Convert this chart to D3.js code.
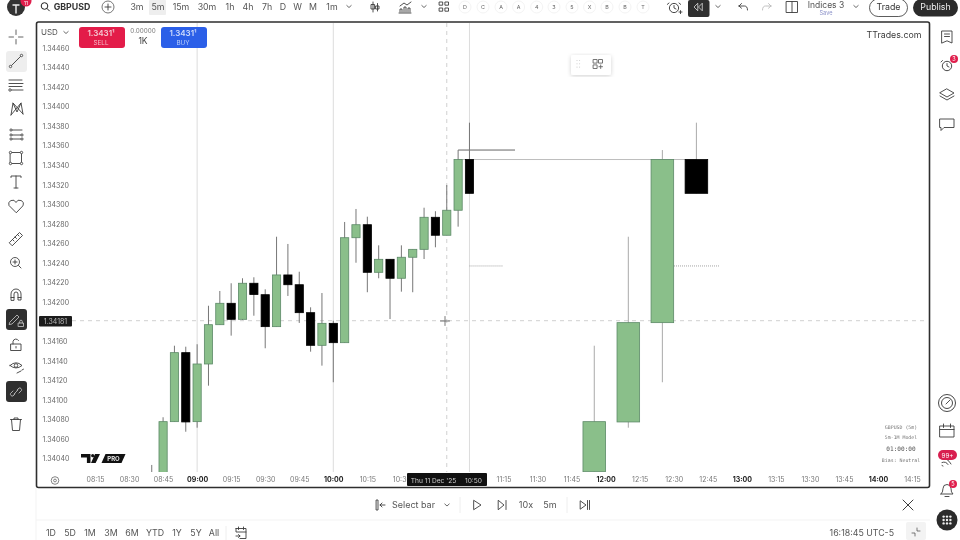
<!DOCTYPE html>
<html><head><meta charset="utf-8">
<script src="https://cdn.jsdelivr.net/npm/d3@7"></script>
<style>html,body{margin:0;padding:0;background:#fff;overflow:hidden}svg{display:block;filter:blur(.35px)}text{font-family:Inter,"Noto Sans",sans-serif}</style>
</head><body><svg id="c" width="960" height="540"></svg>
<script>
// ---- data ----
const times5m=["08:40","08:45","08:50","08:55","09:00","09:05","09:10","09:15","09:20","09:25","09:30","09:35","09:40","09:45","09:50","09:55","10:00","10:05","10:10","10:15","10:20","10:25","10:30","10:35","10:40","10:45","10:50","10:55","11:00"];
const open5m=[1.34020,1.34015,1.340777,1.341483,1.340777,1.341367,1.341769,1.341988,1.341824,1.342193,1.342076,1.341749,1.342278,1.342178,1.341892,1.341558,1.341783,1.341585,1.342659,1.342792,1.342305,1.342438,1.342244,1.342459,1.34254,1.342868,1.342684,1.34294,1.343459];
const high5m=[1.340334,1.340822,1.341554,1.341544,1.341569,1.341963,1.342114,1.342193,1.342244,1.342254,1.342131,1.342669,1.342595,1.342311,1.341947,1.342093,1.34181,1.34282,1.342953,1.342874,1.342581,1.342438,1.342581,1.34254,1.342966,1.34293,1.343198,1.343556,1.343836];
const low5m=[1.34015,1.34010,1.340777,1.340674,1.340715,1.341145,1.341769,1.341657,1.341817,1.341861,1.341528,1.341749,1.342063,1.341787,1.341493,1.34135,1.34118,1.341585,1.342403,1.342101,1.342244,1.341827,1.342107,1.342101,1.342441,1.342561,1.342684,1.342772,1.343113];
const close5m=[1.34025,1.340777,1.341483,1.340774,1.341367,1.341769,1.341988,1.341824,1.342193,1.342078,1.341749,1.342278,1.342178,1.341892,1.341558,1.341783,1.341585,1.342659,1.342792,1.342305,1.342438,1.342244,1.342459,1.34254,1.342868,1.342684,1.34294,1.343459,1.343113];
const times15m=["11:55","12:10","12:25","12:40"];
const open15m=[1.340265,1.340774,1.34179,1.343459];
const high15m=[1.341554,1.342669,1.343556,1.343836];
const low15m=[1.340265,1.340715,1.34118,1.343113];
const close15m=[1.340777,1.34179,1.343459,1.343113];
const priceTicks=[1.3446,1.3444,1.3442,1.344,1.3438,1.3436,1.3434,1.3432,1.343,1.3428,1.3426,1.3424,1.3422,1.342,1.3418,1.3416,1.3414,1.3412,1.341,1.3408,1.3406,1.3404];
const timeTicks=["08:15","08:30","08:45","09:00","09:15","09:30","09:45","10:00","10:15","10:30","11:15","11:30","11:45","12:00","12:15","12:30","12:45","13:00","13:15","13:30","13:45","14:00","14:15"];
const gridTimes=["09:00","10:00","11:00"];
const highLevel=1.343459, wickLevel=1.343556, midLevel=1.34237, crossPrice=1.34181, crossTime="10:50";
const timeframes=["3m","5m","15m","30m","1h","4h","7h","D","W","M","1m"];
const tfX=[137,158,181,207,230,248,267,283,297.5,313,332];
const letters=["D","C","A","A","4","3","5","X","B","B","T"];
const ranges=["1D","5D","1M","3M","6M","YTD","1Y","5Y","All"];
const rangeX=[51,70,90,111,132,155,177,196,214];

// ---- scales ----
const mins=s=>{const[a,b]=s.split(":").map(Number);return a*60+b};
const x=d3.scaleLinear().domain([mins("08:15"),mins("14:15")]).range([95,912]);
const y=d3.scaleLinear().domain([1.3446,1.3404]).range([48,458.5]);
const svg=d3.select("#c");
const defs=svg.append("defs");
defs.append("clipPath").attr("id","pane").append("rect").attr("x",38).attr("y",23).attr("width",890).attr("height",449);
defs.append("filter").attr("id","sh").append("feDropShadow").attr("dx",0).attr("dy",1).attr("stdDeviation",2).attr("flood-opacity",.18);

const tx=(s,xx,yy,o={})=>svg.append("text").attr("x",xx).attr("y",yy).attr("text-anchor",o.a||"middle").attr("font-size",o.s||9).attr("font-weight",o.w||400).attr("fill",o.f||"#3a3a3a").style("font-family",o.ff||null).text(s);
const ic=(xx,yy,d,o={})=>svg.append("path").attr("transform",`translate(${xx},${yy})`).attr("d",d).attr("fill",o.fill||"none").attr("stroke",o.st||"#3c3c3c").attr("stroke-width",o.w||.9).attr("stroke-linecap","round").attr("stroke-linejoin","round");
const circ=(xx,yy,r,o={})=>svg.append("circle").attr("cx",xx).attr("cy",yy).attr("r",r).attr("fill",o.fill||"none").attr("stroke",o.st||"none").attr("stroke-width",o.w||.9);
const box=(xx,yy,w,h,r,f,o={})=>svg.append("rect").attr("x",xx).attr("y",yy).attr("width",w).attr("height",h).attr("rx",r).attr("fill",f).attr("stroke",o.st||"none").attr("stroke-width",o.w||1);
const chev=(xx,yy,c="#444")=>ic(xx,yy,"M-2.2,-1L0,1L2.2,-1",{st:c,w:.8});

// ---- chart pane ----
const pane=svg.append("g").attr("clip-path","url(#pane)");
pane.selectAll(".grid").data(gridTimes).join("line").attr("x1",d=>x(mins(d))).attr("x2",d=>x(mins(d))).attr("y1",23).attr("y2",472).attr("stroke","#dcdcdc").attr("stroke-width",1);
// crosshair
pane.append("line").attr("x1",72).attr("x2",928).attr("y1",y(crossPrice)).attr("y2",y(crossPrice)).attr("stroke","#c4c4c4").attr("stroke-width",.8).attr("stroke-dasharray","4 4");
pane.append("line").attr("x1",x(mins(crossTime))).attr("x2",x(mins(crossTime))).attr("y1",23).attr("y2",472).attr("stroke","#c4c4c4").attr("stroke-width",.8).attr("stroke-dasharray","4 4");
// levels
pane.append("line").attr("x1",x(mins("10:55"))).attr("x2",x(mins("12:40"))).attr("y1",y(highLevel)).attr("y2",y(highLevel)).attr("stroke","#bdbdbd").attr("stroke-width",1);
pane.append("line").attr("x1",x(mins("10:55"))).attr("x2",515).attr("y1",y(wickLevel)).attr("y2",y(wickLevel)).attr("stroke","#666").attr("stroke-width",1);
[[x(mins("11:00")),503],[674,719]].forEach(([a,b])=>pane.append("line").attr("x1",a).attr("x2",b).attr("y1",y(midLevel)).attr("y2",y(midLevel)).attr("stroke","#9a9a9a").attr("stroke-width",.9).attr("stroke-dasharray","1 1"));

function candles(ts,O,H,L,C,w,wick){
  const g=pane.append("g");
  const idx=d3.range(ts.length);
  g.selectAll("line").data(idx).join("line").attr("x1",i=>x(mins(ts[i]))).attr("x2",i=>x(mins(ts[i]))).attr("y1",i=>y(H[i])).attr("y2",i=>y(L[i])).attr("stroke",wick).attr("stroke-width",1);
  g.selectAll("rect").data(idx).join("rect").attr("x",i=>x(mins(ts[i]))-w/2).attr("width",w)
   .attr("y",i=>y(Math.max(O[i],C[i]))).attr("height",i=>Math.abs(y(O[i])-y(C[i])))
   .attr("fill",i=>C[i]>=O[i]?"#8abf8a":"#000").attr("stroke",i=>C[i]>=O[i]?"#5d8a68":"#000").attr("stroke-width",.8);
}
candles(times5m,open5m,high5m,low5m,close5m,8.2,"#777");
candles(times15m,open15m,high15m,low15m,close15m,22.6,"#aaa");

// crosshair plus
ic(445,321,"M-4.5,0H4.5M0,-4.5V4.5",{st:"#555",w:.8});

// ---- axes ----
const yAxis=d3.axisRight(y).tickValues(priceTicks).tickSize(0).tickPadding(0).tickFormat(d3.format(".5f"));
const ya=svg.append("g").attr("transform","translate(42.5,0)").call(yAxis);
ya.select(".domain").remove();
ya.selectAll("text").attr("font-size",7).attr("fill","#666").style("font-family","Inter");
const xAxis=d3.axisBottom(x).tickValues(timeTicks.map(mins)).tickSize(0).tickPadding(0).tickFormat(m=>String(Math.floor(m/60)).padStart(2,"0")+":"+String(m%60).padStart(2,"0"));
const xa=svg.append("g").attr("transform","translate(0,477.5)").call(xAxis);
xa.select(".domain").remove();
xa.selectAll("text").attr("font-size",7).attr("fill",m=>m%60==0?"#222":"#777").attr("font-weight",m=>m%60==0?700:400).style("font-family","Inter");

// frame
box(36.5,22,893,465.5,2,"none",{st:"#2e2e2e",w:1.6});

// price & time labels
box(39,316,33,10.5,1,"#1c1c1c");
tx("1.34181",55.5,323.8,{s:7,f:"#bdbdbd"});
box(407,473,80,13,1,"#111");
tx("Thu 11 Dec '25",433.5,482.8,{s:6.6,f:"#d0d0d0"});
tx("10:50",473.5,482.8,{s:6.6,f:"#d0d0d0"});
circ(55,480.5,3.8,{st:"#666",w:.8});circ(55,480.5,1.4,{st:"#666",w:.8});

// top-left order widget
tx("USD",41,35,{a:"start",s:8,f:"#555"});chev(66,32.5);
box(79,27,46,21,3,"#e31c49");
tx("1.3431¹",101,36,{s:8,w:600,f:"#f4c9d2"});tx("SELL",101,45,{s:6.3,f:"#f6b9c6"});
box(161,27,46,21,3,"#2b5fe8");
tx("1.3431¹",183,36,{s:8,w:600,f:"#cfdcfb"});tx("BUY",183,45,{s:6.3,f:"#b8cdfa"});
tx("0.00000",143,32.5,{s:6.3,f:"#777"});tx("1K",143,44,{s:8.5,f:"#444"});

tx("TTrades.com",894,38.3,{s:8.8,f:"#3a3a3a"});

// floating widget
box(571,55,40,20,2,"#fff").attr("filter","url(#sh)");
[0,1,2].forEach(i=>[0,1].forEach(j=>circ(577+j*2.6,60.5+i*3.3,.55,{fill:"#ccc"})));
ic(598,64,"M-4.5,-4.5h3.6v3.6h-3.6zM.9,-4.5h3.6v3.6h-3.6zM-4.5,.9h3.6v3.6h-3.6zM2.7,.9v3.6M.9,2.7h3.6",{st:"#666"});

// logo
svg.append("path").attr("d","M81,454h9.5v9h-3.6v-5.4H81zM95,454h5l-4.4,9h-4.6z").attr("fill","#111");
circ(92.7,455.7,1.6,{fill:"#111"});
svg.append("path").attr("d","M105.5,454H125.5L121.5,463H101.5z").attr("fill","#111");
tx("PRO",113.5,461.3,{s:6,w:700,f:"#e8e8e8"});

// watermark
const mono="DejaVu Sans Mono";
tx("GBPUSD (5m)",901,429,{s:4.9,f:"#777",ff:mono});
tx("5m-1M Model",901,439,{s:4.9,f:"#777",ff:mono});
tx("01:00:00",901,451,{s:6.1,f:"#555",ff:mono});
tx("Bias: Neutral",901,462,{s:4.9,f:"#777",ff:mono});

// ---- top bar ----
circ(16,7,9,{fill:"#333"});
ic(16,8,"M-3,-3h6M0,-3V5",{st:"#eee",w:1.4});
circ(26,1,5.5,{fill:"#e01e4c"});tx("11",26,4.8,{s:5,f:"#fff"});
circ(44.5,6,3.3,{st:"#222",w:1});ic(47,8.5,"M0,0l2.4,2.4",{st:"#222",w:1});
tx("GBPUSD",72,10.3,{s:8.8,w:700,f:"#333"});
circ(108,7,6,{st:"#555",w:.8});ic(108,7,"M-3,0H3M0,-3V3");
box(149,0,17,15,1,"#eeeeee");
timeframes.forEach((t,i)=>tx(t,tfX[i],10,{s:8.8,f:"#555"}));
chev(349,6.5);
ic(373,7,"M0,-5V5M-1.6,-2.5h3.2v4.5h-3.2zM4.5,-3.5V4M3,-1h3v3h-3z");
ic(405,7,"M-6,6H6M-5,5V2h2v3M-1,5V0h2v5M3,5V1h2v4M-5,-1L-1,-4L2,-2L6,-5");chev(424,6.5);
ic(444,7,"M-4.5,-5h3.2v3.2h-3.2zM1.3,-5h3.2v3.2h-3.2zM-4.5,1h3.2v3.2h-3.2zM1.3,1h3.2v3.2h-3.2z");
letters.forEach((l,i)=>{const cx=[465,483,501,518.6,536.7,554,572,589.6,607,625,643][i];circ(cx,7,6,{st:"#f0f0f0",w:.8});tx(l,cx,9,{s:5.4,f:"#666"});});
circ(674,8,4.6,{st:"#333",w:.9});ic(674,8,"M0,-2.5V0L2,1M-5,-5l-1.7,1.4M5,-5l1.7,1.4M5,4h3M6.5,2.6v3");
box(688,0,21.5,17,2,"#2f2f2f");ic(698,7,"M-.5,-3.5L-4,0L-.5,3.5ZM4,-3.5L.5,0L4,3.5Z",{st:"#ddd",w:.8});
chev(718,6.5);
ic(743,7,"M-4,-1L-1.5,-3.5M-4,-1L-1.5,1.2M-4,-1H1.5Q4.5,-1 4.5,3",{w:.9});
ic(767,7,"M4,-1L1.5,-3.5M4,-1L1.5,1.2M4,-1H-1.5Q-4.5,-1 -4.5,3",{st:"#bbb",w:.9});
ic(792,7,"M-5.5,-5.5h11v11h-11zM0,-5.5v11",{w:.9});
tx("Indices 3",826,7.5,{s:8.5,f:"#555"});tx("Save",826,14.5,{s:5.6,f:"#8a90c8"});
chev(856,6.5);
box(869.5,-1,38,17.5,8.7,"#fff",{st:"#333",w:.8});tx("Trade",888.5,10,{s:8.8,f:"#333"});
box(913,-1,45,17.5,8.7,"#2b2b2b");tx("Publish",935.5,10,{s:8.8,f:"#eee"});

// ---- left toolbar ----
box(6,51,21,21,3,"#eeeeee");
ic(16,37,"M-7,0H-2.5M2.5,0H7M0,-7V-2.5M0,2.5V7",{w:.8});
ic(16,61,"M-5.5,5.5L5.5,-5.5");circ(10.5,66.5,1.2,{st:"#444",fill:"#fff"});circ(21.5,55.5,1.2,{st:"#444",fill:"#fff"});
ic(16,85,"M-7,-5H6M-7,-1.5H7M-7,1.5H6M-5,5H7");circ(-0+10,90,1.2,{st:"#444",fill:"#fff"});
ic(16,109,"M-5,6L-3,-6L1,3L5,-6L7,5M-5,6L5,-6M-3,-6L7,5");
ic(16,134,"M-5,-4H6M-5,1H6M-5,5H6");[[11,130],[11,135],[11,139],[22,135],[22,139]].forEach(p=>circ(p[0],p[1],1.1,{st:"#444",fill:"#fff"}));
ic(16,158,"M-5.5,-5.5h11v11h-11z");[[10.5,152.5],[21.5,152.5],[10.5,163.5],[21.5,163.5]].forEach(p=>circ(p[0],p[1],1.2,{st:"#444",fill:"#fff"}));
ic(16,182,"M-5,-4.5V-6H5V-4.5M0,-6V6M-2,6H2");
ic(16,206,"M0,6.5L-7,-.5A3.6,3.6 0 0 1 0,-3.5A3.6,3.6 0 0 1 7,-.5Z");
ic(16,239,"M-6.5,3.5L3.5,-6.5L6.5,-3.5L-3.5,6.5ZM-3.5,.5l1.5,1.5M-1,-2l1.5,1.5M1.5,-4.5l1.5,1.5");
circ(15,262,4.5,{st:"#444"});ic(15,262,"M-2,0H2M0,-2V2M3.5,3.5L6,6");
ic(16,295,"M-5,5V-1A5,5 0 0 1 5,-1V5H2V-1A2,2 0 0 0 -2,-1V5ZM-5,2.5H-2M2,2.5H5");
box(6,309,21,21,3,"#2f2f2f");ic(14,318,"M-4,4L3,-3L5,-1L-2,6L-4.5,6.5Z",{st:"#ccc",w:.8});ic(21,324,"M-2.5,-1h5v3.5h-5zM-1.3,-1V-2.5A1.3,1.3 0 0 1 1.3,-2.5V-1",{st:"#ccc",w:.8});
ic(16,345,"M-5,-1h10v6.5h-10zM-3,-1V-3.5A3,3 0 0 1 2.5,-4.5M0,1.5V3");
ic(16,366,"M-6,-.5Q0,-6 6,-.5Q0,4.5 -6,-.5Z");circ(16,365.5,1.8,{st:"#444"});ic(19,372,"M-2,1L2,-1M3,-2l1.5,-.8");
box(6,381,21,21,3,"#2f2f2f");ic(16,392,"M-1,2L-3,4A2,2 0 0 1 -5.5,1.5L-3,-1M1,-2L3,-4A2,2 0 0 1 5.5,-1.5L3,1M-2,2L2,-2",{st:"#ccc",w:.8});
ic(16,424,"M-5.5,-4.5H5.5M-2,-4.5V-6H2V-4.5M-4.5,-4.5L-3.5,6.5H3.5L4.5,-4.5");

// ---- right toolbar ----
ic(947,37,"M-5,-6H5V6L0,3.8L-5,6ZM-2.5,-3H2.5M-2.5,-.5H2.5");
circ(947,66,4.7,{st:"#333"});ic(947,66,"M0,-2.5V0L2,1M-4.5,-5.5L-6,-4");circ(954,59,4,{fill:"#e01e4c"});tx("3",954,61.2,{s:5.5,f:"#fff"});
ic(947,95,"M0,-6L7,-2L0,2L-7,-2ZM-7,1L0,5L7,1");
ic(947,124,"M-7,-5H7V3.5H-3L-6,6.5V3.5H-7Z");
circ(947,403,8.5,{st:"#333"});circ(947,403,5.5,{st:"#333"});ic(947,403,"M-1,1L3,-3");
ic(947,431,"M-7,-5H7V6H-7ZM-7,-1.5H7M-3.5,-7V-3.5M3.5,-7V-3.5");
ic(947,461,"M-5,-2Q0,-4 4,3M-5,1.5Q-1,0 1,3.5M-5,4.5L-4,5");
box(938,450,19,10,5,"#d81f50");tx("99+",947.5,457.6,{s:6.2,f:"#fff"});
ic(947,490,"M-6,4H6Q4,2.5 4,-1.5A4,4 0 0 0 -4,-1.5Q-4,2.5 -6,4ZM-2,6.5H2");circ(953,484,4,{fill:"#e01e4c"});tx("5",953,486.2,{s:5.5,f:"#fff"});
circ(947,520,10.5,{fill:"#2b2b2b"});
[-3.4,0,3.4].forEach(a=>[-3.4,0,3.4].forEach(b=>circ(947+a,520+b,1.2,{fill:"#eee"})));

// ---- replay bar ----
ic(380,505,"M-3.5,-5h1.5v10h-1.5zM5,0H0M2,-2L0,0L2,2");
tx("Select bar",413.5,508.2,{s:9,f:"#555"});chev(447,505);
svg.append("line").attr("x1",460).attr("x2",460).attr("y1",497).attr("y2",513).attr("stroke","#eee");
ic(477,505,"M-3,-4.5L4,0L-3,4.5Z");
ic(502,505,"M-3.5,-4.5L2,0L-3.5,4.5ZM4,-4.5V4.5");
tx("10x",526,508.4,{s:9,f:"#555"});tx("5m",550,508.4,{s:9,f:"#555"});
svg.append("line").attr("x1",567).attr("x2",567).attr("y1",497).attr("y2",513).attr("stroke","#eee");
ic(585,505,"M-4.5,-4L1,0L-4.5,4ZM2.5,-4.5V4.5M4.5,-4.5V4.5");
ic(908,505,"M-5,-5L5,5M5,-5L-5,5",{w:1});

// ---- bottom bar ----
svg.append("line").attr("x1",36).attr("x2",930).attr("y1",520).attr("y2",520).attr("stroke","#f3f3f3");
svg.append("line").attr("x1",36).attr("x2",36).attr("y1",488).attr("y2",540).attr("stroke","#f3f3f3");
ranges.forEach((r,i)=>tx(r,rangeX[i],536.3,{s:8.8,f:"#555"}));
svg.append("line").attr("x1",226).attr("x2",226).attr("y1",526).attr("y2",540).attr("stroke","#eee");
ic(241,533,"M-5,-4.5H5V5.5H-1M-5,-4.5V-1H5M-2.5,-6V-3.5M2.5,-6V-3.5M-5,3H-1M-2.5,1.5L-1,3L-2.5,4.5");
tx("16:18:45 UTC-5",894,536.3,{a:"end",s:8.8,f:"#555"});
box(906,522,20,18,2,"#f3f3f3");ic(916,532,"M-4,1H-1V4M4,-1H1V-4",{st:"#444",w:.7});
</script></body></html>
